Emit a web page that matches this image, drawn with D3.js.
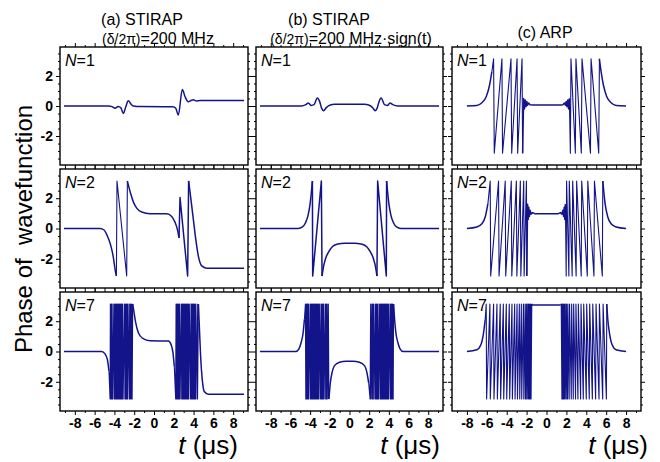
<!DOCTYPE html>
<html>
<head>
<meta charset="utf-8">
<script src="https://cdn.jsdelivr.net/npm/d3@7"></script>
<style>
  body { margin: 0; background: #fff; }
  text { font-family: "Liberation Sans", Arial, sans-serif; }
</style>
</head>
<body>
<svg id="chart" width="660" height="462"></svg>
<script>
// axis ranges and ticks
const xDomain = [-9.5, 9.5];
const yDomain = [-3.93, 3.93];
const xMajor = [-8, -6, -4, -2, 0, 2, 4, 6, 8];
const xMinor = [-9, -7, -5, -3, -1, 1, 3, 5, 7, 9];
const yMajor = [-2, 0, 2];
const yMinor = [-3.5, -3, -2.5, -1.5, -1, -0.5, 0.5, 1, 1.5, 2.5, 3, 3.5];
const RAIL = 3.14; // phase wraps between -pi and +pi

const colTitles = ['(a) STIRAP', '(b) STIRAP', '(c) ARP'];
const colSubtitles = ['=200 MHz', '=200 MHz\u00b7sign(t)', null];
const nValues = ['1', '2', '7'];

// each curve = list of pieces: 's' smooth points, 'l' straight points,
// 'r' times where the wrapped phase touches the rails (alternating, first sign given)
const stirapA1 = [
  ['s', [[-9.1, 0], [-4.6, 0], [-4.25, -0.04], [-3.94, -0.15], [-3.62, -0.03], [-3.35, -0.12], [-3.1, -0.5],
         [-2.85, -0.05], [-2.6, 0.35], [-2.35, 0.15], [-2.09, 0.0], [-1.4, -0.04], [1.9, -0.05], [2.2, -0.15],
         [2.46, -0.6], [2.86, 1.1], [3.15, 0.6], [3.47, 0.28], [3.72, 0.36], [3.97, 0.42], [4.3, 0.34],
         [4.65, 0.36], [9.1, 0.36]]]
];
const stirapA2 = [
  ['s', [[-9.1, 0], [-5.45, 0], [-5.05, -0.1], [-4.71, -0.5], [-4.38, -1.1], [-4.11, -1.9], [-3.91, -2.8], [-3.8, -3.14]]],
  ['r', [-3.74, -2.76, -2.69], 1],
  ['s', [[-2.36, 2.31], [-2.09, 1.76], [-1.75, 1.35], [-1.24, 1.09], [-0.4, 0.98], [1.28, 0.98], [1.79, 0.8],
         [2.12, 0.42], [2.39, -0.13], [2.53, -0.62]]],
  ['l', [[2.63, 2.04], [3.4, -3.14], [3.5, 3.14]]],
  ['s', [[3.7, 2.09], [3.97, 0.64], [4.24, -0.8], [4.51, -1.91], [4.82, -2.47], [5.32, -2.62], [9.1, -2.62]]]
];
const stirapA7Left = [-4.44, -4.41, -4.36, -4.32, -4.27, -4.23, -4.18, -4.06, -4.02, -3.97, -3.93, -3.88, -3.84,
  -3.79, -3.75, -3.70, -3.66, -3.61, -3.57, -3.52, -3.48, -3.43, -3.39, -3.34, -3.30, -3.25, -3.21, -3.16, -3.12,
  -2.98, -2.94, -2.89, -2.85, -2.80, -2.76, -2.71, -2.67, -2.62, -2.50, -2.46, -2.41, -2.37, -2.32, -2.27, -2.21, -2.15];
const stirapA7Right = [2.19, 2.23, 2.28, 2.32, 2.37, 2.41, 2.46, 2.50, 2.55, 2.59, 2.64, 2.76, 2.80, 2.85, 2.89,
  2.94, 2.98, 3.03, 3.07, 3.12, 3.16, 3.21, 3.25, 3.30, 3.34, 3.39, 3.43, 3.48, 3.52, 3.57, 3.70, 3.74, 3.79, 3.83,
  3.88, 3.92, 3.97, 4.01, 4.06, 4.10, 4.15, 4.19, 4.24, 4.36, 4.40, 4.49];
const stirapA7 = [
  ['s', [[-9.1, 0], [-5.29, 0], [-4.95, -0.16], [-4.71, -0.53], [-4.55, -1.3]]],
  ['r', stirapA7Left, -1],
  ['s', [[-2.02, 2.58], [-1.85, 1.91], [-1.58, 1.24], [-1.14, 0.87], [-0.4, 0.71], [1.45, 0.69], [1.72, 0.47],
         [1.92, -0.09], [2.05, -0.98]]],
  ['r', stirapA7Right, -1],
  ['s', [[4.58, 1.69], [4.71, -0.31], [4.88, -1.87], [5.08, -2.64], [5.49, -2.82], [9.1, -2.82]]]
];

const stirapB1 = [
  ['s', [[-9.1, 0], [-4.88, 0], [-4.44, 0.09], [-4.17, 0.2], [-3.9, 0.04], [-3.6, 0.09], [-3.27, 0.53], [-3.03, 0.29],
         [-2.83, -0.16], [-2.63, -0.31], [-2.36, -0.11], [-1.95, 0.07], [-1.52, 0.11], [1.52, 0.11], [1.95, 0.07],
         [2.36, -0.11], [2.6, -0.31], [2.8, -0.16], [3.0, 0.29], [3.22, 0.53], [3.55, 0.09], [3.85, 0.04],
         [4.12, 0.2], [4.4, 0.09], [4.88, 0], [9.1, 0]]]
];
const stirapB2 = [
  ['s', [[-9.1, 0], [-5.22, 0], [-4.78, 0.1], [-4.48, 0.36], [-4.21, 0.87], [-4.0, 1.64], [-3.87, 2.42], [-3.77, 3.14]]],
  ['l', [[-3.74, -3.14], [-2.86, 3.14], [-2.79, -3.14]]],
  ['s', [[-2.63, -2.49], [-2.42, -1.96], [-2.15, -1.58], [-1.75, -1.2], [-1.18, -1.02], [-0.5, -0.98], [0.5, -0.98],
         [1.18, -1.02], [1.75, -1.2], [2.15, -1.58], [2.42, -1.96], [2.63, -2.49], [2.79, -3.14]]],
  ['l', [[2.86, 3.14], [3.74, -3.14], [3.77, 3.14]]],
  ['s', [[3.87, 2.42], [4.0, 1.64], [4.21, 0.87], [4.48, 0.36], [4.78, 0.1], [5.22, 0], [9.1, 0]]]
];
const stirapB7Left = [-4.48, -4.44, -4.39, -4.35, -4.30, -4.26, -4.21, -4.17, -4.12, -4.00, -3.96, -3.91, -3.87,
  -3.82, -3.78, -3.73, -3.69, -3.64, -3.60, -3.55, -3.51, -3.46, -3.42, -3.37, -3.33, -3.28, -3.24, -3.19, -3.15,
  -3.10, -3.06, -2.94, -2.90, -2.85, -2.81, -2.76, -2.72, -2.67, -2.63, -2.58, -2.46, -2.42, -2.37, -2.33, -2.28,
  -2.20, -2.15, -2.09];
const stirapB7Right = [2.09, 2.15, 2.20, 2.28, 2.33, 2.37, 2.42, 2.46, 2.58, 2.63, 2.67, 2.72, 2.76, 2.81, 2.85,
  2.90, 2.94, 3.06, 3.10, 3.15, 3.19, 3.24, 3.28, 3.33, 3.37, 3.42, 3.46, 3.51, 3.55, 3.60, 3.64, 3.69, 3.73, 3.78,
  3.82, 3.87, 3.91, 3.96, 4.00, 4.12, 4.17, 4.21, 4.26, 4.30, 4.35, 4.39, 4.44, 4.48];
const stirapB7 = [
  ['s', [[-9.1, 0], [-5.45, 0], [-5.15, 0.16], [-4.92, 0.58], [-4.71, 1.24], [-4.58, 2.13]]],
  ['r', stirapB7Left, 1],
  ['s', [[-1.95, -2.09], [-1.78, -1.42], [-1.52, -0.93], [-1.01, -0.71], [-0.34, -0.64], [0.34, -0.64], [1.01, -0.71],
         [1.52, -0.93], [1.78, -1.42], [1.95, -2.09]]],
  ['r', stirapB7Right, -1],
  ['s', [[4.58, 2.13], [4.71, 1.24], [4.92, 0.58], [5.15, 0.16], [5.45, 0], [9.1, 0]]]
];

const arp1 = [
  ['s', [[-8, 0], [-7, 0.04], [-6.5, 0.22], [-6.06, 0.62], [-5.72, 1.4], [-5.49, 2.29]]],
  ['r', [-5.32, -5.25, -4.48, -4.42, -3.57, -3.50, -2.96, -2.90, -2.46, -2.40], 1],
  ['l', [[-2.3, 0.5], [-2.22, -0.2], [-2.14, 0.4], [-2.06, -0.05], [-1.98, 0.3], [-1.9, 0.05], [-1.8, 0.2],
         [-1.65, 0.08], [-1.4, 0.07], [1.4, 0.07], [1.65, 0.08], [1.8, 0.2], [1.9, 0.05], [1.98, 0.3],
         [2.06, -0.05], [2.14, 0.4], [2.22, -0.2], [2.3, 0.5]]],
  ['r', [2.40, 2.46, 2.90, 2.96, 3.50, 3.57, 4.42, 4.48, 5.25, 5.32], -1],
  ['s', [[5.49, 2.29], [5.72, 1.4], [6.06, 0.62], [6.5, 0.22], [7, 0.04], [8, 0]]]
];
const arp2 = [
  ['s', [[-8, 0], [-7, 0.1], [-6.5, 0.31], [-6.16, 0.76], [-5.89, 1.64]]],
  ['r', [-5.66, -5.61, -4.82, -4.77, -4.15, -4.10, -3.54, -3.49, -3.03, -2.98, -2.63, -2.58, -2.29, -2.25,
         -2.02, -1.98], 1],
  ['l', [[-1.9, 1.6], [-1.84, 0.6], [-1.78, 1.4], [-1.72, 0.8], [-1.65, 1.2], [-1.55, 0.95], [-1.4, 1.05],
         [-1.2, 0.98], [1.2, 0.98], [1.4, 1.05], [1.55, 0.95], [1.65, 1.2], [1.72, 0.8], [1.78, 1.4],
         [1.84, 0.6], [1.9, 1.6]]],
  ['r', [1.98, 2.02, 2.25, 2.29, 2.58, 2.63, 2.98, 3.03, 3.49, 3.54, 4.10, 4.15, 4.77, 4.82, 5.61, 5.66], -1],
  ['s', [[5.89, 1.64], [6.16, 0.76], [6.5, 0.31], [7, 0.1], [8, 0]]]
];
const arp7Left = [-6.06, -6.02, -5.69, -5.65, -5.32, -5.28, -4.98, -4.94, -4.65, -4.61, -4.34, -4.30, -4.04,
  -4.00, -3.74, -3.70, -3.47, -3.43, -3.20, -3.16, -2.96, -2.92, -2.73, -2.69, -2.53, -2.49, -2.32, -2.28, -2.15,
  -2.12, -2.02, -1.99, -1.89, -1.86, -1.78, -1.75, -1.68, -1.65, -1.58, -1.55, -1.48];
const arp7Right = [1.48, 1.55, 1.58, 1.65, 1.68, 1.75, 1.78, 1.86, 1.89, 1.99, 2.02, 2.12, 2.15, 2.28, 2.32,
  2.49, 2.53, 2.69, 2.73, 2.92, 2.96, 3.16, 3.20, 3.43, 3.47, 3.70, 3.74, 4.00, 4.04, 4.30, 4.34, 4.61, 4.65, 4.94,
  4.98, 5.28, 5.32, 5.65, 5.69, 6.02, 6.06];
const arp7 = [
  ['s', [[-8, 0], [-7, 0.11], [-6.6, 0.44], [-6.33, 1.22], [-6.16, 2.13]]],
  ['r', arp7Left, 1],
  ['l', [[-1.42, 3.07], [1.42, 3.07]]],
  ['r', arp7Right, 1],
  ['s', [[6.16, 2.13], [6.33, 1.22], [6.6, 0.44], [7, 0.11], [8, 0]]]
];

const panels = [
  [stirapA1, stirapB1, arp1],
  [stirapA2, stirapB2, arp2],
  [stirapA7, stirapB7, arp7]
];

// panel boxes
const cols = [{x0: 60, x1: 248}, {x0: 256, x1: 443}, {x0: 452, x1: 641}];
const rows = [{y0: 47, y1: 165}, {y0: 169, y1: 288}, {y0: 292, y1: 411}];
const lineColor = '#14148a';

const svg = d3.select('#chart');

// turn the pieces into paths that join end to end
function buildParts(pieces) {
  let last = null;
  const parts = [];
  pieces.forEach(function (p) {
    let pts = p[0] === 'r'
      ? p[1].map(function (t, i) { return [t, (i % 2 ? -p[2] : p[2]) * RAIL]; })
      : p[1].slice();
    if (last) pts = [last].concat(pts);
    parts.push({pts: pts, curve: p[0] === 's' ? d3.curveMonotoneX : d3.curveLinear, rails: p[0] === 'r'});
    last = pts[pts.length - 1];
  });
  return parts;
}

function styleAxis(g, labels) {
  g.select('.domain').remove();
  g.selectAll('line').attr('stroke', '#000').attr('stroke-width', 1);
  g.selectAll('text')
    .attr('fill', '#000')
    .style('font-family', '"Liberation Sans", Arial, sans-serif')
    .style('font-size', '14px')
    .style('font-weight', 'bold');
  if (!labels) g.selectAll('text').remove();
}

rows.forEach(function (r, ri) {
  cols.forEach(function (c, ci) {
    const x = d3.scaleLinear().domain(xDomain).range([c.x0, c.x1]);
    const y = d3.scaleLinear().domain(yDomain).range([r.y1, r.y0]);
    const g = svg.append('g');
    const fmt = function (d) { return String(d); };

    // bottom / top
    g.append('g').attr('transform', 'translate(0,' + r.y1 + ')')
      .call(d3.axisBottom(x).tickValues(xMajor).tickSize(4).tickPadding(3).tickFormat(fmt))
      .call(function (a) { styleAxis(a, ri === 2); });
    g.append('g').attr('transform', 'translate(0,' + r.y1 + ')')
      .call(d3.axisBottom(x).tickValues(xMinor).tickSize(2).tickFormat(''))
      .call(function (a) { styleAxis(a, false); });
    g.append('g').attr('transform', 'translate(0,' + r.y0 + ')')
      .call(d3.axisTop(x).tickValues(xMajor).tickSize(4).tickFormat(''))
      .call(function (a) { styleAxis(a, false); });
    g.append('g').attr('transform', 'translate(0,' + r.y0 + ')')
      .call(d3.axisTop(x).tickValues(xMinor).tickSize(2).tickFormat(''))
      .call(function (a) { styleAxis(a, false); });

    // left / right
    g.append('g').attr('transform', 'translate(' + c.x0 + ',0)')
      .call(d3.axisLeft(y).tickValues(yMajor).tickSize(4).tickPadding(3).tickFormat(fmt))
      .call(function (a) { styleAxis(a, ci === 0); });
    g.append('g').attr('transform', 'translate(' + c.x0 + ',0)')
      .call(d3.axisLeft(y).tickValues(yMinor).tickSize(2).tickFormat(''))
      .call(function (a) { styleAxis(a, false); });
    g.append('g').attr('transform', 'translate(' + c.x1 + ',0)')
      .call(d3.axisRight(y).tickValues(yMajor).tickSize(4).tickFormat(''))
      .call(function (a) { styleAxis(a, false); });
    g.append('g').attr('transform', 'translate(' + c.x1 + ',0)')
      .call(d3.axisRight(y).tickValues(yMinor).tickSize(2).tickFormat(''))
      .call(function (a) { styleAxis(a, false); });

    // curve
    buildParts(panels[ri][ci]).forEach(function (part) {
      g.append('path')
        .datum(part.pts)
        .attr('fill', 'none')
        .attr('stroke', lineColor)
        .attr('stroke-width', part.rails ? 1.1 : 1.5)
        .attr('stroke-linejoin', 'round')
        .attr('d', d3.line().x(function (d) { return x(d[0]); }).y(function (d) { return y(d[1]); }).curve(part.curve));
    });

    // frame
    g.append('rect')
      .attr('x', c.x0).attr('y', r.y0)
      .attr('width', c.x1 - c.x0).attr('height', r.y1 - r.y0)
      .attr('fill', 'none').attr('stroke', '#000').attr('stroke-width', 1.4);

    // N label
    const nl = g.append('text').attr('x', c.x0 + 5).attr('y', r.y0 + 19).style('font-size', '16px');
    nl.append('tspan').style('font-style', 'italic').text('N');
    nl.append('tspan').text('=' + nValues[ri]);
  });
});

// column titles
const titleX = [142, 329, 545];
const titleY = [25, 25, 38];
const subX = [158, 351];
colTitles.forEach(function (t, i) {
  svg.append('text').attr('x', titleX[i]).attr('y', titleY[i])
    .attr('text-anchor', 'middle').style('font-size', '16px').text(t);
  if (colSubtitles[i]) {
    const s = svg.append('text').attr('x', subX[i]).attr('y', 44)
      .attr('text-anchor', 'middle').style('font-size', '16px');
    s.append('tspan').style('font-size', '14px').text('(\u03b4/2\u03c0)');
    s.append('tspan').text(colSubtitles[i]);
  }
});

// x titles
const xTitleEnd = [238, 440, 648];
xTitleEnd.forEach(function (xe) {
  const t = svg.append('text').attr('x', xe).attr('y', 454)
    .attr('text-anchor', 'end').style('font-size', '26px');
  t.append('tspan').style('font-style', 'italic').text('t');
  t.append('tspan').text(' (\u03bcs)');
});

// y title
svg.append('text')
  .attr('transform', 'translate(32,229) rotate(-90)')
  .attr('text-anchor', 'middle')
  .style('font-size', '24px')
  .style('white-space', 'pre')
  .text('Phase of  wavefunction');
</script>
</body>
</html>
